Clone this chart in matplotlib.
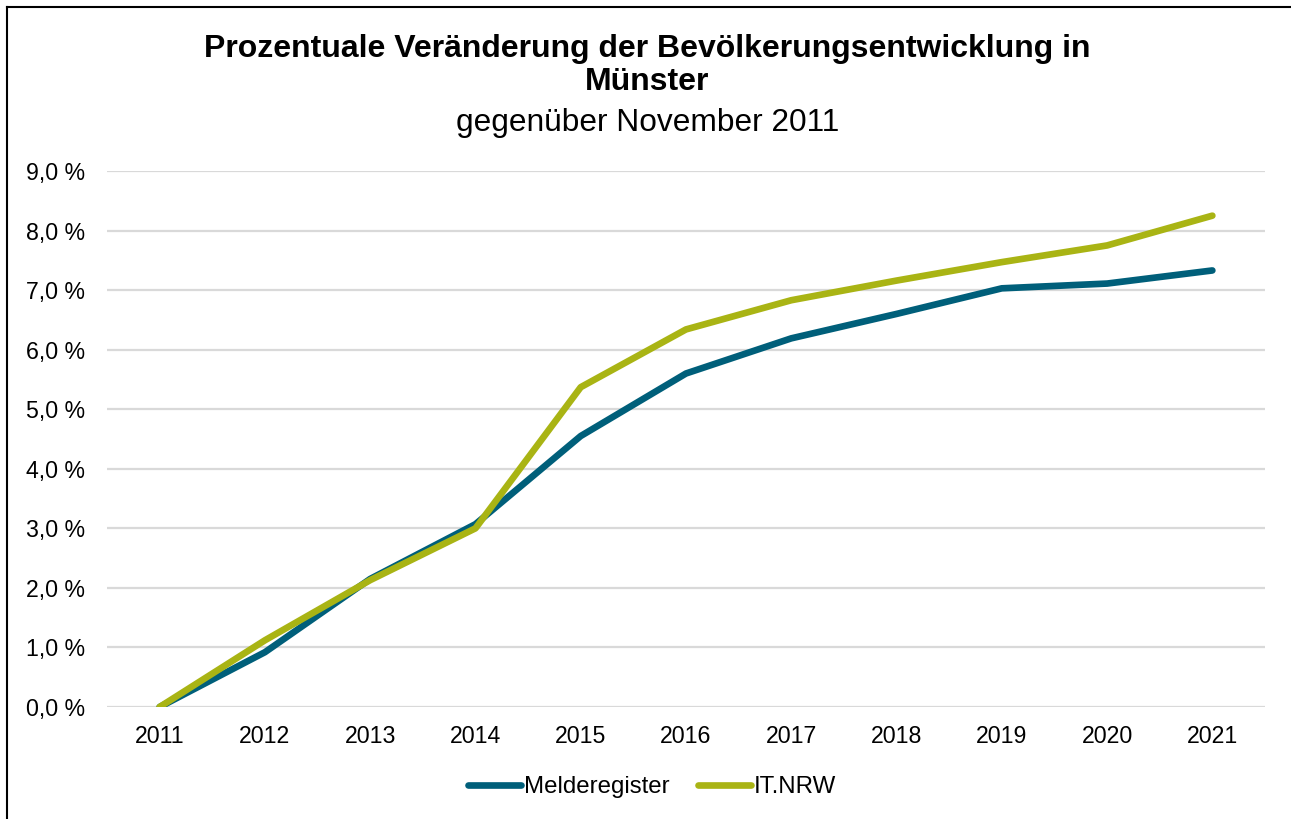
import numpy as np
import matplotlib.pyplot as plt
from matplotlib.lines import Line2D

plt.rcParams['font.family'] = ['Liberation Sans', 'DejaVu Sans']

# data
years = ['2011', '2012', '2013', '2014', '2015', '2016', '2017', '2018', '2019', '2020', '2021']
melderegister = [0.0, 0.92, 2.15, 3.07, 4.55, 5.60, 6.19, 6.60, 7.03, 7.11, 7.33]
it_nrw = [0.0, 1.12, 2.13, 3.00, 5.37, 6.34, 6.83, 7.16, 7.47, 7.75, 8.25]
yticks = np.arange(0, 9.5, 1.0)

col_mr = '#005F7A'
col_it = '#A9B414'

fig = plt.figure(figsize=(12.91, 8.19), dpi=100)
ax = fig.add_axes([107/1291, 1-707/819, (1265-107)/1291, (707-171)/819])

x = np.arange(len(years))
ax.plot(x, melderegister, color=col_mr, lw=4.8, solid_capstyle='round', solid_joinstyle='round', zorder=3)
ax.plot(x, it_nrw, color=col_it, lw=4.8, solid_capstyle='round', solid_joinstyle='round', zorder=4)

ax.set_xlim(-0.5, len(years) - 0.5)
ax.set_ylim(0, 9)
ax.set_yticks(yticks)
ax.set_yticklabels([f'{v:.1f} %'.replace('.', ',') for v in yticks])
ax.set_xticks(x)
ax.set_xticklabels(years)
ax.tick_params(axis='both', length=0, labelsize=16.7, colors='black')
ax.tick_params(axis='y', pad=16)
ax.tick_params(axis='x', pad=13)
ax.yaxis.grid(True, color='#D9D9D9', lw=1.6)
ax.set_axisbelow(True)
for s in ax.spines.values():
    s.set_visible(False)

# titles
fig.text(0.5015, 1-49/819, 'Prozentuale Veränderung der Bevölkerungsentwicklung in',
         ha='center', va='center', fontsize=23, fontweight='bold')
fig.text(0.5015, 1-82/819, 'Münster', ha='center', va='center', fontsize=23, fontweight='bold')
fig.text(0.5015, 1-123/819, 'gegenüber November 2011', ha='center', va='center', fontsize=22.8)

# legend
handles = [Line2D([], [], color=col_mr, lw=4.8, solid_capstyle='round'),
           Line2D([], [], color=col_it, lw=4.8, solid_capstyle='round')]
fig.legend(handles, ['Melderegister', 'IT.NRW'], loc='center', bbox_to_anchor=(0.505, 1-787/819),
           ncol=2, frameon=False, fontsize=17.3, handlelength=2.2, handletextpad=0.1,
           columnspacing=1.2)

# outer frame (left and top edges visible)
fig.add_artist(Line2D([7/1291, 7/1291], [0, 1-7/819], color='black', lw=1.5))
fig.add_artist(Line2D([7/1291, 1], [1-7/819, 1-7/819], color='black', lw=1.5))

fig.savefig('out.png', dpi=100)
